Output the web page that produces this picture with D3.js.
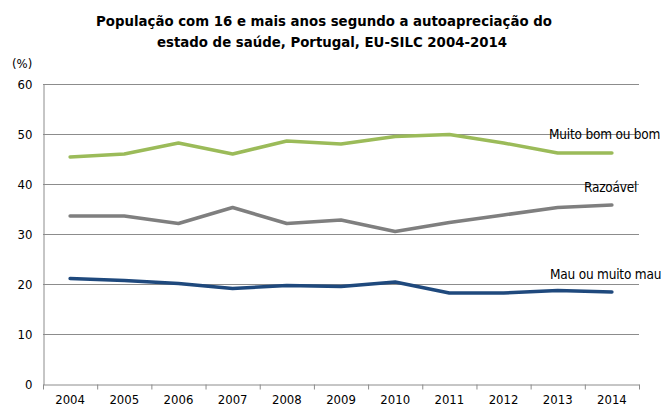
<!DOCTYPE html>
<html>
<head>
<meta charset="utf-8">
<style>
  body { margin: 0; background: #fff; }
  text { font-family: "DejaVu Sans Condensed", "DejaVu Sans", sans-serif; fill: #000; }
</style>
</head>
<body>
<svg id="chart"></svg>
<script src="https://cdn.jsdelivr.net/npm/d3@7"></script>
<script>
// data
var years = ['2004','2005','2006','2007','2008','2009','2010','2011','2012','2013','2014']
var muitoBom = [45.4, 46.0, 48.2, 46.0, 48.6, 48.0, 49.5, 49.9, 48.2, 46.2, 46.2]
var razoavel = [33.6, 33.6, 32.1, 35.3, 32.1, 32.8, 30.5, 32.3, 33.8, 35.3, 35.8]
var mau = [21.1, 20.7, 20.1, 19.1, 19.7, 19.5, 20.4, 18.2, 18.2, 18.7, 18.4]
var yTicks = [0, 10, 20, 30, 40, 50, 60]

var series = [
  { name: 'Muito bom ou bom', values: muitoBom, color: '#9bbb59', lx: 549, ly: 134 },
  { name: 'Razoável', values: razoavel, color: '#7f7f7f', lx: 584, ly: 187 },
  { name: 'Mau ou muito mau', values: mau, color: '#1f497d', lx: 550, ly: 274 }
]

var width = 665, height = 408
var pL = 43, pR = 639, pT = 84, pB = 384

var svg = d3.select('#chart').attr('width', width).attr('height', height)

var x = d3.scaleBand().domain(years).range([pL, pR])
var y = d3.scaleLinear().domain([0, 60]).range([pB, pT])

// gridlines
svg.append('g').selectAll('line')
  .data(yTicks.filter(function(d) { return d > 0 }))
  .enter().append('line')
  .attr('x1', pL).attr('x2', pR)
  .attr('y1', function(d) { return y(d) + 0.5 })
  .attr('y2', function(d) { return y(d) + 0.5 })
  .attr('stroke', '#8c8c8c').attr('stroke-width', 1)

// y axis
var yAxis = svg.append('g').attr('transform', 'translate(' + (pL + 0.5) + ',0.5)')
  .call(d3.axisLeft(y).tickValues(yTicks).tickSize(0).tickPadding(11))
yAxis.select('.domain').attr('stroke', '#8c8c8c')
yAxis.selectAll('text').style('font-size', '13px').attr('fill', '#000')

// x axis
var xAxis = svg.append('g').attr('transform', 'translate(0,' + (pB + 0.5) + ')')
  .call(d3.axisBottom(x).tickSize(0).tickPadding(10))
xAxis.select('.domain').attr('stroke', '#8c8c8c')
xAxis.selectAll('text').style('font-size', '13px').attr('fill', '#000')
xAxis.selectAll('.tk').data(years.concat(['end'])).enter().append('line')
  .attr('class', 'tk')
  .attr('x1', function(d, i) { return pL + i * x.step() + 0.5 })
  .attr('x2', function(d, i) { return pL + i * x.step() + 0.5 })
  .attr('y1', 0).attr('y2', 5)
  .attr('stroke', '#8c8c8c')

// lines
var line = d3.line()
  .x(function(d, i) { return x(years[i]) + x.bandwidth() / 2 })
  .y(function(d) { return y(d) })

svg.append('g').selectAll('path')
  .data(series).enter().append('path')
  .attr('d', function(s) { return line(s.values) })
  .attr('fill', 'none')
  .attr('stroke', function(s) { return s.color })
  .attr('stroke-width', 3.5)
  .attr('stroke-linejoin', 'round')
  .attr('stroke-linecap', 'round')

// series labels
svg.append('g').selectAll('text')
  .data(series).enter().append('text')
  .attr('x', function(s) { return s.lx })
  .attr('y', function(s) { return s.ly })
  .attr('dy', '0.35em')
  .style('font-size', '13.5px')
  .style('letter-spacing', '-0.2px')
  .text(function(s) { return s.name })

// unit
svg.append('text').attr('x', 12).attr('y', 68).style('font-size', '13px').text('(%)')

// title
var title = svg.append('text').attr('text-anchor', 'middle')
  .style('font-size', '14.8px').style('font-weight', 'bold')
title.append('tspan').attr('x', 324).attr('y', 26).text('População com 16 e mais anos segundo a autoapreciação do')
title.append('tspan').attr('x', 332).attr('y', 47).text('estado de saúde, Portugal, EU-SILC 2004-2014')
</script>
</body>
</html>
